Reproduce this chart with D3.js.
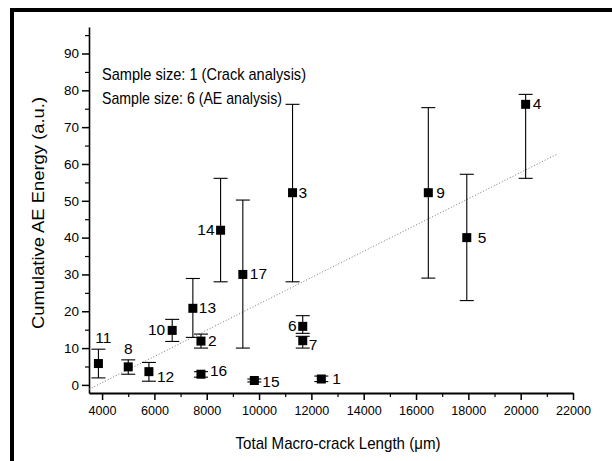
<!DOCTYPE html>
<html lang="en">
<head>
  <meta charset="UTF-8" />
  <title>Cumulative AE Energy vs Macro-crack Length</title>
  <style>
    body {
      margin: 0;
      background: #fff;
    }

    svg {
      display: block;
      font-family: "Liberation Sans", Arial, sans-serif;
    }

    .axis path,
    .axis line {
      stroke: #000;
    }

    .axis text {
      fill: #000;
      font-size: 13.5px;
    }

    .pt-label {
      font-size: 15.5px;
      fill: #000;
    }

    .note {
      font-size: 17px;
      fill: #000;
    }

    .title {
      font-size: 17px;
      fill: #000;
    }
  </style>
</head>

<body>
  <svg width="612" height="461"></svg>

  <script src="https://d3js.org/d3.v7.min.js"></script>
  <script>
    // sample numbers and readings (crack length in um, AE energy in a.u.)
    const samples = ["1", "2", "3", "4", "5", "6", "7", "8", "9", "10", "11", "12", "13", "14", "15", "16", "17"];
    const crackLength = [12380, 7780, 11280, 20190, 17940, 11670, 11670, 5000, 16470, 6680, 3860, 5790, 7470, 8530, 9820, 7780, 9380];
    const aeEnergy = [1.6, 11.9, 52.2, 76.2, 40.0, 15.9, 12.0, 4.9, 52.2, 14.8, 5.8, 3.6, 20.8, 42.0, 1.2, 2.9, 30.0];
    const errLow = [0.9, 10.0, 28.0, 56.1, 22.9, 14.0, 10.0, 2.9, 29.0, 11.8, 1.9, 1.0, 12.9, 28.0, 0.8, 2.1, 10.0];
    const errHigh = [2.4, 13.8, 76.2, 78.9, 57.2, 18.8, 13.2, 6.8, 75.3, 17.8, 9.7, 6.1, 28.9, 56.1, 1.6, 3.6, 50.2];

    // dotted fit line end points
    const fitX = [3500, 21400];
    const fitY = [-1.2, 62.7];

    const xTicks = [4000, 6000, 8000, 10000, 12000, 14000, 16000, 18000, 20000, 22000];
    const xMinor = [5000, 7000, 9000, 11000, 13000, 15000, 17000, 19000, 21000];
    const yTicks = [0, 10, 20, 30, 40, 50, 60, 70, 80, 90];
    const yMinor = [5, 15, 25, 35, 45, 55, 65, 75, 85, 95];

    const notes = ["Sample size: 1 (Crack analysis)", "Sample size: 6 (AE analysis)"];

    // where each sample number sits relative to its marker
    const labelPlace = {
      "1": { dx: 11, dy: 5, anchor: "start" },
      "2": { dx: 7, dy: 5, anchor: "start" },
      "3": { dx: 6, dy: 5, anchor: "start" },
      "4": { dx: 7, dy: 5, anchor: "start" },
      "5": { dx: 11, dy: 5, anchor: "start" },
      "6": { dx: -6, dy: 5, anchor: "end" },
      "7": { dx: 6, dy: 9, anchor: "start" },
      "8": { dx: 0, dy: -6, anchor: "middle", top: true },
      "9": { dx: 8, dy: 5, anchor: "start" },
      "10": { dx: -7, dy: 5, anchor: "end" },
      "11": { dx: 5, dy: -6, anchor: "middle", top: true },
      "12": { dx: 8, dy: 10, anchor: "start" },
      "13": { dx: 6, dy: 5, anchor: "start" },
      "14": { dx: -6, dy: 5, anchor: "end" },
      "15": { dx: 8, dy: 7, anchor: "start" },
      "16": { dx: 9, dy: 2, anchor: "start" },
      "17": { dx: 7, dy: 5, anchor: "start" }
    };

    const svg = d3.select("svg");

    // heavy frame (runs off the right and bottom edges)
    svg.append("path")
      .attr("d", "M12,470 L12,10 L620,10")
      .attr("fill", "none")
      .attr("stroke", "#000")
      .attr("stroke-width", 4);

    const x = d3.scaleLinear().domain([3500, 22000]).range([89, 573]);
    const y = d3.scaleLinear().domain([-2.2, 97.2]).range([393, 27]);

    // axes
    const xAxis = svg.append("g")
      .attr("class", "axis")
      .attr("transform", "translate(0,393)")
      .call(d3.axisBottom(x).tickValues(xTicks).tickSize(7).tickPadding(5).tickFormat(d3.format("d")).tickSizeOuter(0));
    xAxis.select(".domain").attr("stroke-width", 2.2);
    xAxis.selectAll(".tick line").attr("stroke-width", 1.5);
    xAxis.selectAll(".tick text").attr("textLength", 35).attr("lengthAdjust", "spacingAndGlyphs");
    xAxis.selectAll(".tick text").filter(d => d < 10000).attr("textLength", 28);

    svg.append("g")
      .attr("class", "axis")
      .attr("transform", "translate(0,393)")
      .call(d3.axisBottom(x).tickValues(xMinor).tickSize(4).tickFormat("").tickSizeOuter(0))
      .call(g => g.select(".domain").remove())
      .selectAll(".tick line").attr("stroke-width", 1.2);

    const yAxis = svg.append("g")
      .attr("class", "axis")
      .attr("transform", "translate(89,0)")
      .call(d3.axisLeft(y).tickValues(yTicks).tickSize(7).tickPadding(3).tickSizeOuter(0));
    yAxis.select(".domain").attr("stroke-width", 1.6);
    yAxis.selectAll(".tick line").attr("stroke-width", 1.5);

    svg.append("g")
      .attr("class", "axis")
      .attr("transform", "translate(89,0)")
      .call(d3.axisLeft(y).tickValues(yMinor).tickSize(4).tickFormat("").tickSizeOuter(0))
      .call(g => g.select(".domain").remove())
      .selectAll(".tick line").attr("stroke-width", 1.2);

    // axis titles
    svg.append("text")
      .attr("class", "title")
      .attr("x", 338)
      .attr("y", 449)
      .attr("text-anchor", "middle")
      .attr("textLength", 205)
      .attr("lengthAdjust", "spacingAndGlyphs")
      .text("Total Macro-crack Length (\u03bcm)");

    svg.append("text")
      .attr("class", "title")
      .attr("transform", "translate(44,213) rotate(-90)")
      .attr("text-anchor", "middle")
      .attr("textLength", 232)
      .attr("lengthAdjust", "spacingAndGlyphs")
      .text("Cumulative AE Energy (a.u.)");

    // notes
    const noteWidth = [204, 180];
    notes.forEach((t, i) => {
      svg.append("text")
        .attr("class", "note")
        .attr("x", 102)
        .attr("y", 80 + i * 24)
        .attr("textLength", noteWidth[i])
        .attr("lengthAdjust", "spacingAndGlyphs")
        .text(t);
    });

    // fit line
    svg.append("line")
      .attr("x1", x(fitX[0]))
      .attr("y1", y(fitY[0]))
      .attr("x2", x(fitX[1]))
      .attr("y2", y(fitY[1]))
      .attr("stroke", "#777")
      .attr("stroke-width", 1)
      .attr("stroke-dasharray", "1,2");

    const data = samples.map((s, i) => ({
      id: s,
      x: crackLength[i],
      y: aeEnergy[i],
      lo: errLow[i],
      hi: errHigh[i]
    }));

    // error bars
    const capW = 7;
    const bars = svg.append("g").attr("stroke", "#000").attr("stroke-width", 1.1);
    data.forEach(d => {
      const cx = x(d.x);
      bars.append("line")
        .attr("x1", cx).attr("x2", cx)
        .attr("y1", y(d.lo)).attr("y2", y(d.hi));
      [d.lo, d.hi].forEach(v => {
        bars.append("line")
          .attr("x1", cx - capW).attr("x2", cx + capW)
          .attr("y1", y(v)).attr("y2", y(v));
      });
    });

    // markers
    const sq = 9;
    svg.append("g")
      .selectAll("rect")
      .data(data)
      .enter()
      .append("rect")
      .attr("x", d => x(d.x) - sq / 2)
      .attr("y", d => y(d.y) - sq / 2)
      .attr("width", sq)
      .attr("height", sq)
      .attr("fill", "#000");

    // sample numbers
    svg.append("g")
      .selectAll("text")
      .data(data)
      .enter()
      .append("text")
      .attr("class", "pt-label")
      .attr("x", d => x(d.x) + labelPlace[d.id].dx)
      .attr("y", d => (labelPlace[d.id].top ? y(d.hi) : y(d.y)) + labelPlace[d.id].dy)
      .attr("text-anchor", d => labelPlace[d.id].anchor)
      .text(d => d.id);
  </script>

</body>
</html>
